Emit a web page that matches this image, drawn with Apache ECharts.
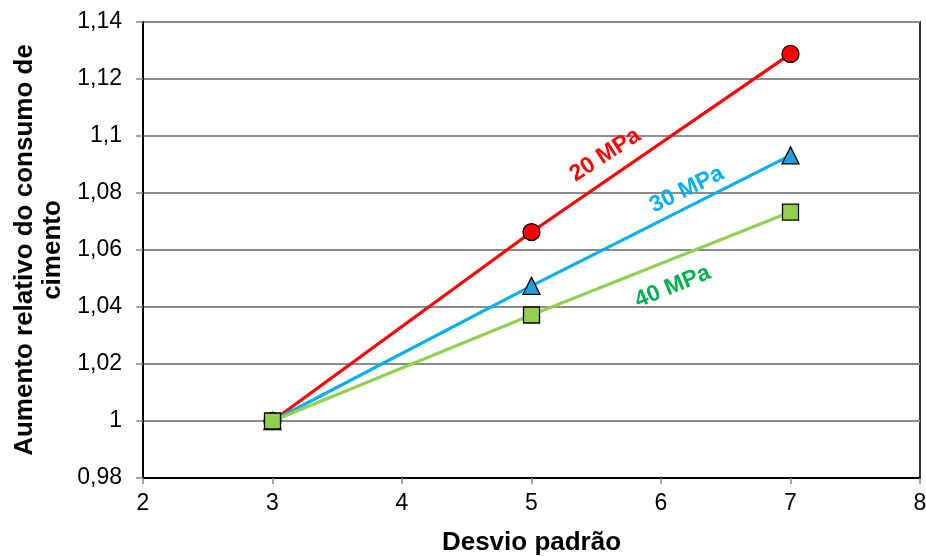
<!DOCTYPE html>
<html>
<head>
<meta charset="utf-8">
<script src="https://cdn.jsdelivr.net/npm/echarts@6/dist/echarts.min.js"></script>
<style>
  html, body { margin: 0; padding: 0; background: #fff; }
  #chart { width: 926px; height: 556px; }
</style>
</head>
<body>
<div id="chart"></div>
<script>
// Standard deviation values (x) and relative cement consumption per strength class
const desvio = [3, 5, 7];
const mpa20 = [1.0, 1.0663, 1.1288];
const mpa30 = [1.0, 1.0474, 1.0932];
const mpa40 = [1.0, 1.0372, 1.0733];

// Inline series labels: [text, x, y, angle]
const rotulos = [
  ['20 MPa', 5.57, 1.0933, 33],
  ['30 MPa', 6.2, 1.0812, 26],
  ['40 MPa', 6.09, 1.0471, 22]
];

const FONTE = 'Liberation Sans, Arial, sans-serif';

const pares = (ys) => desvio.map((x, i) => [x, ys[i]]);

function serie(nome, ys, linha, marc, simbolo, tam, rot, corTexto) {
  return {
    name: nome,
    type: 'line',
    data: pares(ys),
    symbol: simbolo,
    symbolSize: tam,
    lineStyle: { color: linha, width: 3.2 },
    itemStyle: { color: marc, borderColor: '#000', borderWidth: 1.3 },
    z: 3,
    markPoint: {
      symbol: 'circle',
      symbolSize: 0,
      data: [{ coord: [rot[1], rot[2]] }],
      label: {
        show: true,
        formatter: rot[0],
        position: 'inside',
        rotate: rot[3],
        color: corTexto,
        fontFamily: FONTE,
        fontWeight: 'bold',
        fontSize: 23
      }
    }
  };
}

const chart = echarts.init(document.getElementById('chart'), null, { renderer: 'canvas' });
chart.setOption({
  animation: false,
  backgroundColor: '#ffffff',
  grid: {
    left: 143, right: 6, top: 22, bottom: 78,
    containLabel: false, outerBoundsMode: 'none',
    show: true, borderColor: '#333', borderWidth: 2
  },
  xAxis: {
    type: 'value', min: 2, max: 8, interval: 1,
    name: 'Desvio padrão', nameLocation: 'middle', nameGap: 52,
    nameTextStyle: { fontFamily: FONTE, fontWeight: 'bold', fontSize: 26, color: '#000' },
    axisLine: { lineStyle: { color: '#000', width: 2 } },
    axisTick: { show: true, length: 6, lineStyle: { color: '#888', width: 1.5 } },
    axisLabel: { fontFamily: FONTE, fontSize: 23, color: '#000', margin: 14 },
    splitLine: { show: false }
  },
  yAxis: {
    type: 'value', min: 0.98, max: 1.14, interval: 0.02,
    name: 'Aumento relativo do consumo de\ncimento', nameLocation: 'middle', nameGap: 68,
    nameTextStyle: { fontFamily: FONTE, fontWeight: 'bold', fontSize: 26, color: '#000', lineHeight: 28, align: 'center' },
    axisLine: { show: true, lineStyle: { color: '#000', width: 2 } },
    axisTick: { show: true, length: 7, lineStyle: { color: '#888', width: 1.5 } },
    axisLabel: {
      fontFamily: FONTE, fontSize: 23, color: '#000', margin: 21,
      formatter: (v) => {
        const r = Math.round(v * 100) / 100;
        return String(r).replace('.', ',');
      }
    },
    splitLine: { show: true, lineStyle: { color: '#8c8c8c', width: 2 } }
  },
  series: [
    serie('20 MPa', mpa20, '#FF0000', '#FF0000', 'circle', 17, rotulos[0], '#FF0000'),
    serie('30 MPa', mpa30, '#00B0F0', '#1FA3DC', 'triangle', 17, rotulos[1], '#00B0F0'),
    serie('40 MPa', mpa40, '#92D050', '#92D050', 'rect', 16, rotulos[2], '#00B050')
  ]
});
</script>
</body>
</html>
